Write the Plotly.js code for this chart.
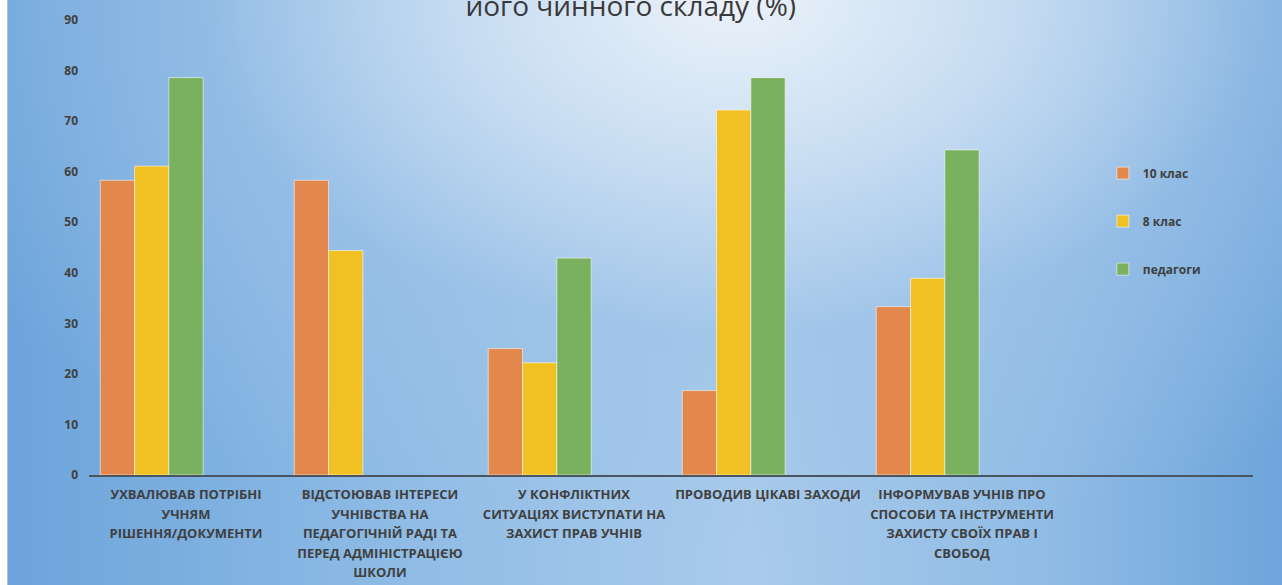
<!DOCTYPE html>
<html>
<head>
<meta charset="utf-8">
<script src="https://cdn.plot.ly/plotly-3.0.1.min.js"></script>
<style>
  html, body { margin: 0; padding: 0; }
  body { width: 1282px; height: 585px; background: #ffffff; position: relative; overflow: hidden; }
  #bg {
    position: absolute; left: 7px; top: 0; width: 1275px; height: 585px;
    border-left: 1px solid #b9c3cc;
    background:
      radial-gradient(ellipse 70% 95% at 57% 0%, rgba(235,242,250,1) 0%, rgba(205,224,243,0.9) 30%, rgba(160,196,232,0.55) 60%, rgba(110,165,220,0) 100%),
      linear-gradient(90deg, #6ca4db 0%, #8ebbe5 30%, #a9cbeb 58%, #8fbbe5 82%, #6ea5db 100%);
  }
  #chart { position: absolute; left: 0; top: 0; width: 1282px; height: 585px; }
</style>
</head>
<body>
<div id="bg"></div>
<div id="chart"></div>
<script>
// Data
const categories = [
  "УХВАЛЮВАВ ПОТРІБНІ<br>УЧНЯМ<br>РІШЕННЯ/ДОКУМЕНТИ",
  "ВІДСТОЮВАВ ІНТЕРЕСИ<br>УЧНІВСТВА НА<br>ПЕДАГОГІЧНІЙ РАДІ ТА<br>ПЕРЕД АДМІНІСТРАЦІЄЮ<br>ШКОЛИ",
  "У КОНФЛІКТНИХ<br>СИТУАЦІЯХ ВИСТУПАТИ НА<br>ЗАХИСТ ПРАВ УЧНІВ",
  "ПРОВОДИВ ЦІКАВІ ЗАХОДИ",
  "ІНФОРМУВАВ УЧНІВ ПРО<br>СПОСОБИ ТА ІНСТРУМЕНТИ<br>ЗАХИСТУ СВОЇХ ПРАВ І<br>СВОБОД",
  " "
];
const series10 = [58.3, 58.3, 25.0, 16.7, 33.3, null];
const series8 = [61.1, 44.4, 22.2, 72.2, 38.9, null];
const seriesTeachers = [78.6, null, 42.9, 78.6, 64.3, null];
const emptySeries = [null, null, null, null, null, null];
const seriesNames = ["10 клас", "8 клас", "педагоги"];
const yTicks = [0, 10, 20, 30, 40, 50, 60, 70, 80, 90];
const titleText = "його чинного складу (%)";

// Category tick text: small glyphs with wider line spacing
const tickText = categories.map(c => c.split("<br>").map(l => '<span style="font-size:13px">' + l + '</span>').join("<br>"));

const colors = ["#e3884c", "#f1c123", "#79b15e"];
const outline = { color: "rgba(255,255,255,0.55)", width: 1 };

const traces = [series10, series8, seriesTeachers].map((vals, i) => ({
  type: "bar", x: categories, y: vals, name: seriesNames[i],
  marker: { color: colors[i], line: outline },
  legendgroup: "g" + i, hoverinfo: "y"
}));
traces.push({ type: "bar", x: categories, y: emptySeries, name: "s4", showlegend: false, hoverinfo: "skip" });
traces.push({ type: "bar", x: categories, y: emptySeries, name: "s5", showlegend: false, hoverinfo: "skip" });

const layout = {
  width: 1282, height: 585,
  paper_bgcolor: "rgba(0,0,0,0)", plot_bgcolor: "rgba(0,0,0,0)",
  margin: { l: 89, r: 29, t: 20, b: 110, autoexpand: false },
  barmode: "group", bargap: 0.116, bargroupgap: 0,
  font: { family: "Open Sans, Noto Sans, sans-serif", color: "#404040" },
  title: {
    text: titleText,
    font: { size: 28, color: "#3a3a3a", family: "Open Sans, Noto Sans, sans-serif" },
    xref: "container", x: 0.492, xanchor: "center",
    yref: "paper", y: 1, yanchor: "bottom", pad: { b: 4 }
  },
  xaxis: {
    type: "category",
    tickvals: categories, ticktext: tickText,
    tickfont: { size: 15, color: "#404040", weight: "bold" },
    showgrid: false, zeroline: false,
    showline: true, linecolor: "#4a5560", linewidth: 2,
    ticks: "", tickangle: 0, automargin: false, ticklabelstandoff: 4
  },
  yaxis: {
    range: [0, 90], tickvals: yTicks,
    tickfont: { size: 12, color: "#404040", weight: "bold" },
    showgrid: false, zeroline: false, showline: false,
    ticks: "", ticklabelstandoff: 10, automargin: false
  },
  showlegend: true,
  legend: {
    x: 0.871, xref: "paper", xanchor: "left",
    y: 0.558, yanchor: "middle",
    bgcolor: "rgba(0,0,0,0)",
    font: { size: 12, color: "#404040", weight: "bold" },
    traceorder: "grouped", tracegroupgap: 29
  }
};

Plotly.newPlot("chart", traces, layout, { displayModeBar: false, staticPlot: true });
</script>
</body>
</html>
